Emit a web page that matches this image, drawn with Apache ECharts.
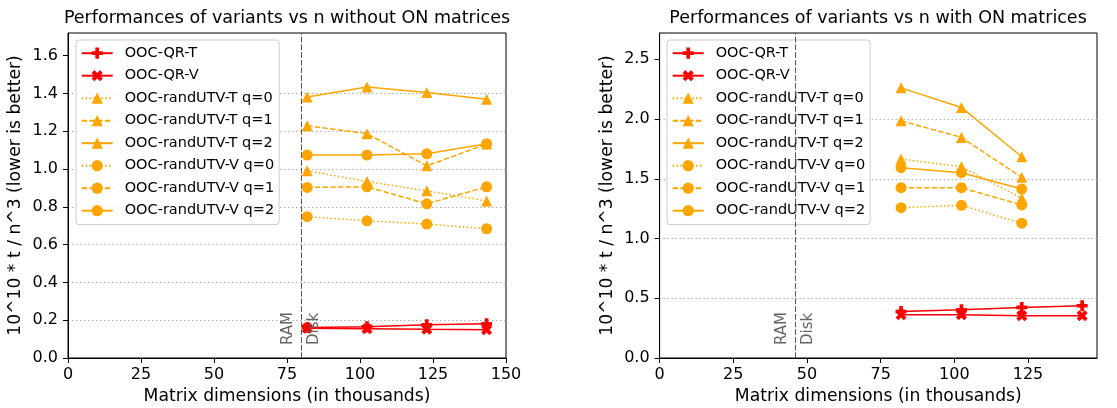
<!DOCTYPE html>
<html><head><meta charset="utf-8">
<script src="https://cdn.jsdelivr.net/npm/echarts@6/dist/echarts.min.js"></script>
<style>html,body{margin:0;padding:0;background:#fff}#c{width:1117px;height:408px}</style>
</head><body><div id="c"></div>
<script>
// ---- data ----
const seriesNames = ['OOC-QR-T','OOC-QR-V','OOC-randUTV-T q=0','OOC-randUTV-T q=1','OOC-randUTV-T q=2','OOC-randUTV-V q=0','OOC-randUTV-V q=1','OOC-randUTV-V q=2'];
const xDims = [81.92, 102.4, 122.88, 143.36];

const leftQR_T = [0.162, 0.165, 0.176, 0.181];
const leftQR_V = [0.158, 0.155, 0.152, 0.150];
const leftT_q0 = [0.991, 0.934, 0.885, 0.831];
const leftT_q1 = [1.229, 1.187, 1.017, 1.132];
const leftT_q2 = [1.381, 1.434, 1.405, 1.370];
const leftV_q0 = [0.748, 0.726, 0.709, 0.684];
const leftV_q1 = [0.903, 0.906, 0.816, 0.906];
const leftV_q2 = [1.074, 1.074, 1.081, 1.134];

const rightQR_T = [0.389, 0.403, 0.423, 0.437];
const rightQR_V = [0.362, 0.362, 0.353, 0.353];
const rightT_q0 = [1.665, 1.601, 1.337];
const rightT_q1 = [1.985, 1.846, 1.512];
const rightT_q2 = [2.261, 2.097, 1.684];
const rightV_q0 = [1.258, 1.278, 1.128];
const rightV_q1 = [1.425, 1.425, 1.281];
const rightV_q2 = [1.593, 1.551, 1.414];

const leftRamDisk = 80;
const rightRamDisk = 46;

const leftXTicks = [0, 25, 50, 75, 100, 125, 150];
const rightXTicks = [0, 25, 50, 75, 100, 125];
const leftYTicks = [0, 0.2, 0.4, 0.6, 0.8, 1.0, 1.2, 1.4, 1.6];
const rightYTicks = [0, 0.5, 1.0, 1.5, 2.0, 2.5];

const titles = ['Performances of variants vs n without ON matrices', 'Performances of variants vs n with ON matrices'];
const xName = 'Matrix dimensions (in thousands)';
const yName = '10^10 * t / n^3 (lower is better)';

// ---- styles ----
const FONT = 'DejaVu Sans';
const FS = 14.5, TICKFS = 16, NAMEFS = 17.2;
const RED = '#ff0000', ORANGE = '#ffa500';
const DOT = [1.5, 2.4], DASH = [5.4, 2.3];
const PLUS = 'path://M-1,-3 L1,-3 L1,-1 L3,-1 L3,1 L1,1 L1,3 L-1,3 L-1,1 L-3,1 L-3,-1 L-1,-1 Z';
const XMARK = 'path://M2,-4 L4,-2 L2,0 L4,2 L2,4 L0,2 L-2,4 L-4,2 L-2,0 L-4,-2 L-2,-4 L0,-2 Z';
const styleDefs = [
  {color: RED, symbol: PLUS, dash: 'solid', size: 11},
  {color: RED, symbol: XMARK, dash: 'solid', size: 11},
  {color: ORANGE, symbol: 'triangle', dash: DOT, size: 11},
  {color: ORANGE, symbol: 'triangle', dash: DASH, size: 11},
  {color: ORANGE, symbol: 'triangle', dash: 'solid', size: 11},
  {color: ORANGE, symbol: 'circle', dash: DOT, size: 11},
  {color: ORANGE, symbol: 'circle', dash: DASH, size: 11},
  {color: ORANGE, symbol: 'circle', dash: 'solid', size: 11}
];
const leftVals = [leftQR_T, leftQR_V, leftT_q0, leftT_q1, leftT_q2, leftV_q0, leftV_q1, leftV_q2];
const rightVals = [rightQR_T, rightQR_V, rightT_q0, rightT_q1, rightT_q2, rightV_q0, rightV_q1, rightV_q2];

function pairs(vals) { return vals.map((v, i) => [xDims[i], v]); }

function ramDiskLine(x) {
  const lbl = {show: true, color: '#666', fontSize: 15, fontFamily: FONT, distance: [13, 5]};
  return {
    symbol: 'none', silent: true, animation: false,
    lineStyle: {color: '#555', type: DASH, width: 1},
    data: [
      {xAxis: x, label: Object.assign({}, lbl, {position: 'insideStartTop', formatter: 'RAM', distance: [13, 6]})},
      {xAxis: x, label: Object.assign({}, lbl, {position: 'insideStartBottom', formatter: 'Disk'})}
    ]
  };
}

const series = [];
[leftVals, rightVals].forEach((vals, g) => {
  vals.forEach((v, i) => {
    const s = styleDefs[i];
    const item = {
      name: seriesNames[i], type: 'line', xAxisIndex: g, yAxisIndex: g,
      data: pairs(v), symbol: s.symbol, symbolSize: s.size, showSymbol: true,
      lineStyle: {color: s.color, width: 1.5, type: s.dash},
      itemStyle: {color: s.color},
      emphasis: {disabled: true}, animation: false, z: 2 + i
    };
    if (i === 0) item.markLine = ramDiskLine(g === 0 ? leftRamDisk : rightRamDisk);
    series.push(item);
  });
});

function xAxis(g, max, ticks) {
  return {
    gridIndex: g, type: 'value', min: 0, max: max, interval: 25,
    axisLine: {show: true, onZero: false, lineStyle: {color: '#000', width: 1}},
    axisTick: {show: true, length: 5, lineStyle: {color: '#000'}, customValues: ticks},
    axisLabel: {fontSize: TICKFS, color: '#000', margin: 9, fontFamily: FONT, customValues: ticks},
    splitLine: {show: false},
    name: xName, nameLocation: 'middle', nameGap: 30,
    nameTextStyle: {fontSize: NAMEFS, color: '#000', fontFamily: FONT}
  };
}
function yAxis(g, max, interval, ticks) {
  return {
    gridIndex: g, type: 'value', min: 0, max: max, interval: interval,
    axisLine: {show: true, onZero: false, lineStyle: {color: '#000', width: 1}},
    axisTick: {show: true, length: 5, lineStyle: {color: '#000'}, customValues: ticks},
    axisLabel: {fontSize: TICKFS, color: '#000', margin: 10, fontFamily: FONT, customValues: ticks,
      formatter: v => v.toFixed(1)},
    splitLine: {show: true, showMinLine: false, showMaxLine: false, lineStyle: {color: '#b0b0b0', type: [1.5, 2.5], width: 1}},
    name: yName, nameLocation: 'middle', nameGap: 44, nameRotate: 90,
    nameTextStyle: {fontSize: NAMEFS, color: '#000', fontFamily: FONT}
  };
}
function legend(left) {
  return {
    data: seriesNames, orient: 'vertical', left: left, top: 40,
    padding: [5.7, 5, 6.4, 4.7], itemWidth: 31, itemHeight: 14, itemGap: 7.5,
    backgroundColor: 'rgba(255,255,255,0.85)', borderColor: '#cccccc', borderWidth: 1, borderRadius: 3,
    textStyle: {fontSize: FS, color: '#000', fontFamily: FONT, padding: [0, 0, 0, 7]},
    selectedMode: false
  };
}

const chart = echarts.init(document.getElementById('c'), null, {renderer: 'canvas'});
chart.setOption({
  animation: false,
  backgroundColor: '#fff',
  textStyle: {fontFamily: FONT},
  title: [
    {text: titles[0], left: 287, top: 9, padding: 0, textAlign: 'center',
     textStyle: {fontSize: 17.5, fontWeight: 'normal', color: '#000', fontFamily: FONT}},
    {text: titles[1], left: 878, top: 9, padding: 0, textAlign: 'center',
     textStyle: {fontSize: 17.5, fontWeight: 'normal', color: '#000', fontFamily: FONT}}
  ],
  legend: [legend(76), legend(667)],
  grid: [
    {left: 68, width: 438, top: 33, height: 325, show: true, borderColor: '#000', borderWidth: 1, backgroundColor: 'transparent', containLabel: false, outerBoundsMode: 'none'},
    {left: 659.6, width: 437.4, top: 33, height: 325, show: true, borderColor: '#000', borderWidth: 1, backgroundColor: 'transparent', containLabel: false, outerBoundsMode: 'none'}
  ],
  xAxis: [xAxis(0, 150, leftXTicks), xAxis(1, 148.4, rightXTicks)],
  yAxis: [yAxis(0, 1.72, 0.2, leftYTicks), yAxis(1, 2.72, 0.5, rightYTicks)],
  series: series
});
</script></body></html>
